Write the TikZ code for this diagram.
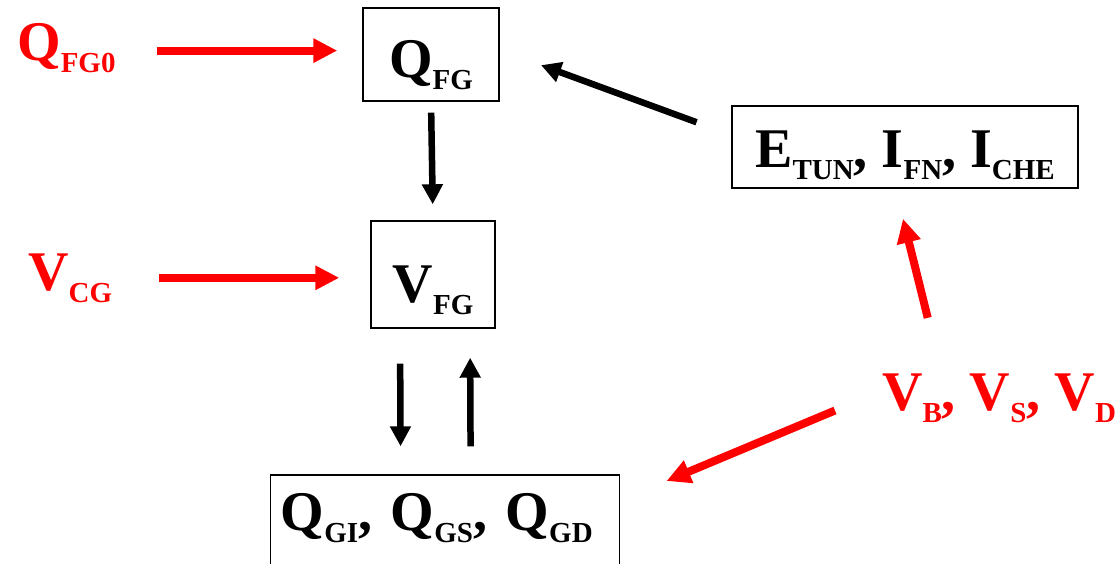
\documentclass[tikz,border=0pt]{standalone}
\usepackage{fontspec}
\setmainfont{Liberation Serif}
\usetikzlibrary{arrows.meta}
\newcommand\lowsub[1]{\raisebox{-12pt}{\fontsize{29}{29}\selectfont #1}}

\begin{document}
\begin{tikzpicture}[x=1pt,y=-1pt,
  font=\bfseries\fontsize{56}{60}\selectfont,
  lbl/.style={red,inner sep=0pt,anchor=base west},
  box/.style={draw,line width=1.4pt,inner sep=0pt,anchor=base},
  blk/.style={line width=6.5pt,-{Triangle[length=20pt,width=20pt]}},
  rd/.style={red,line width=8pt,-{Triangle[length=24pt,width=23pt]}}]
\useasboundingbox (0,0) rectangle (1119,563);
\node[lbl] (qfg0) at (17,60) {Q\lowsub{FG0}};
\node[lbl] (vcg)  at (28,290) {V\lowsub{CG}};
\node[lbl] (vbsd) at (882,410) {V\lowsub{B}, V\lowsub{S}, V\lowsub{D}};
\node[box,minimum width=136pt,text height=69pt,text depth=24pt] (qfg) at (431,77) {Q\lowsub{FG}};
\node[box,minimum width=124pt,text height=81pt,text depth=26pt] (vfg) at (433,302) {V\lowsub{FG}};
\node[box,minimum width=346pt,text height=61pt,text depth=21pt] (etun) at (905,167) {E\lowsub{TUN}, I\lowsub{FN}, I\lowsub{CHE}};
\node[box,anchor=base west,text width=329pt,align=left,inner xsep=10pt,text height=55pt,text depth=60pt] (gq) at (270,530) {Q\lowsub{GI}, Q\lowsub{GS}, Q\lowsub{GD}};
\draw[rd,shorten <=41pt,shorten >=25pt] ([yshift=-3pt]qfg0.east) -- ([yshift=-3pt]qfg0.east -| qfg.west);
\draw[rd,shorten <=47pt,shorten >=31pt] (vcg.east) -- (vcg.east -| vfg.west);
\draw[blk,shorten <=11pt,shorten >=16pt] (qfg.south) -- (vfg.north);
\draw[blk,shorten <=35pt,shorten >=28pt] ([xshift=-33pt]vfg.south) -- ([xshift=-44.5pt]gq.north);
\draw[blk,shorten <=28pt,shorten >=29pt] ([xshift=25.5pt]gq.north) -- ([xshift=37pt]vfg.south);
\draw[blk,shorten <=37pt,shorten >=44pt] ([yshift=12pt]etun.west) -- ([yshift=4.5pt]qfg.east);
\draw[rd,shorten <=57pt,shorten >=31pt] ([xshift=-57.5pt]vbsd.north) -- ([xshift=-9.5pt]etun.south);
\draw[rd,shorten <=51pt,shorten >=50pt] ([yshift=7pt]vbsd.west) -- ([yshift=-26pt]gq.north east);
\end{tikzpicture}
\end{document}
